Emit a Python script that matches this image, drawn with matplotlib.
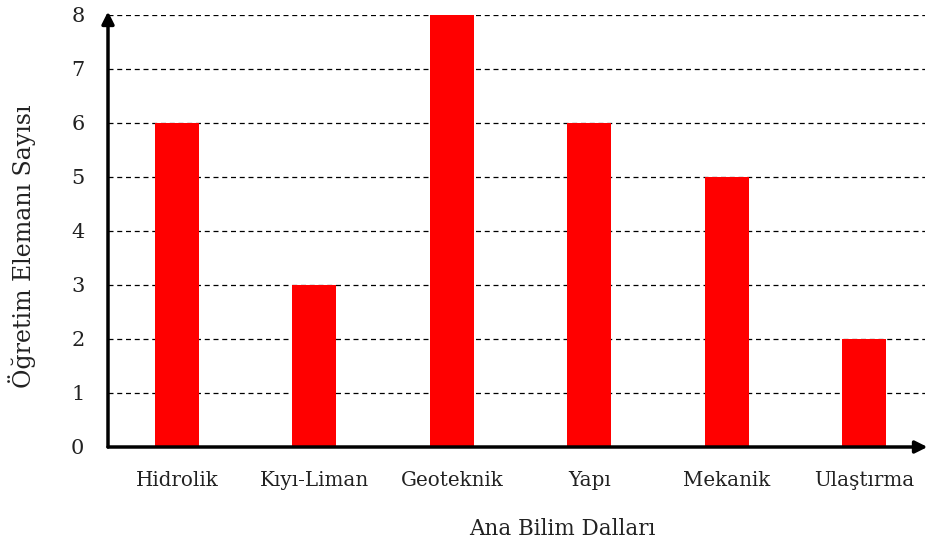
import matplotlib
matplotlib.use("Agg")
import matplotlib.pyplot as plt

categories = ["Hidrolik", "Kıyı-Liman", "Geoteknik", "Yapı", "Mekanik", "Ulaştırma"]
values = [6, 3, 8, 6, 5, 2]
yticks = [0, 1, 2, 3, 4, 5, 6, 7, 8]

fig = plt.figure(figsize=(9.27, 5.44), dpi=100)
ax = fig.add_axes([108/927, 97/544, 817/927, 432/544])

x = list(range(len(categories)))
ax.bar(x, values, width=0.32, color="#ff0000", zorder=3)

ax.set_xlim(-0.5, 5.44)
ax.set_ylim(0, 8)
ax.set_yticks(yticks)
ax.set_xticks(x)
ax.set_xticklabels(categories, fontsize=14.3, family="DejaVu Serif", color="#222222")
ax.set_yticklabels([str(t) for t in yticks], fontsize=15, family="DejaVu Serif", color="#222222")
ax.tick_params(axis="both", length=0)
ax.tick_params(axis="x", pad=17)
ax.tick_params(axis="y", pad=17)

for t in yticks[1:]:
    ax.axhline(t, color="black", lw=0.9, ls=(0, (4, 3)), zorder=1)

for s in ax.spines.values():
    s.set_visible(False)

ax.annotate("", xy=(1.003, 0), xytext=(0, 0), xycoords="axes fraction",
            arrowprops=dict(arrowstyle="-|>", lw=2.5, color="black",
                            mutation_scale=18, shrinkA=0, shrinkB=0), zorder=5)
ax.annotate("", xy=(0, 1.008), xytext=(0, 0), xycoords="axes fraction",
            arrowprops=dict(arrowstyle="-|>", lw=2.5, color="black",
                            mutation_scale=18, shrinkA=0, shrinkB=0), zorder=5)

fig.text(562/927, 1 - 529/544, "Ana Bilim Dalları", fontsize=15.5,
         family="DejaVu Serif", color="#222222", ha="center", va="center")
fig.text(22/927, 1 - 246/544, "Öğretim Elemanı Sayısı", rotation=90, fontsize=17,
         family="DejaVu Serif", color="#222222", ha="center", va="center")

fig.savefig("out.png", dpi=100)
